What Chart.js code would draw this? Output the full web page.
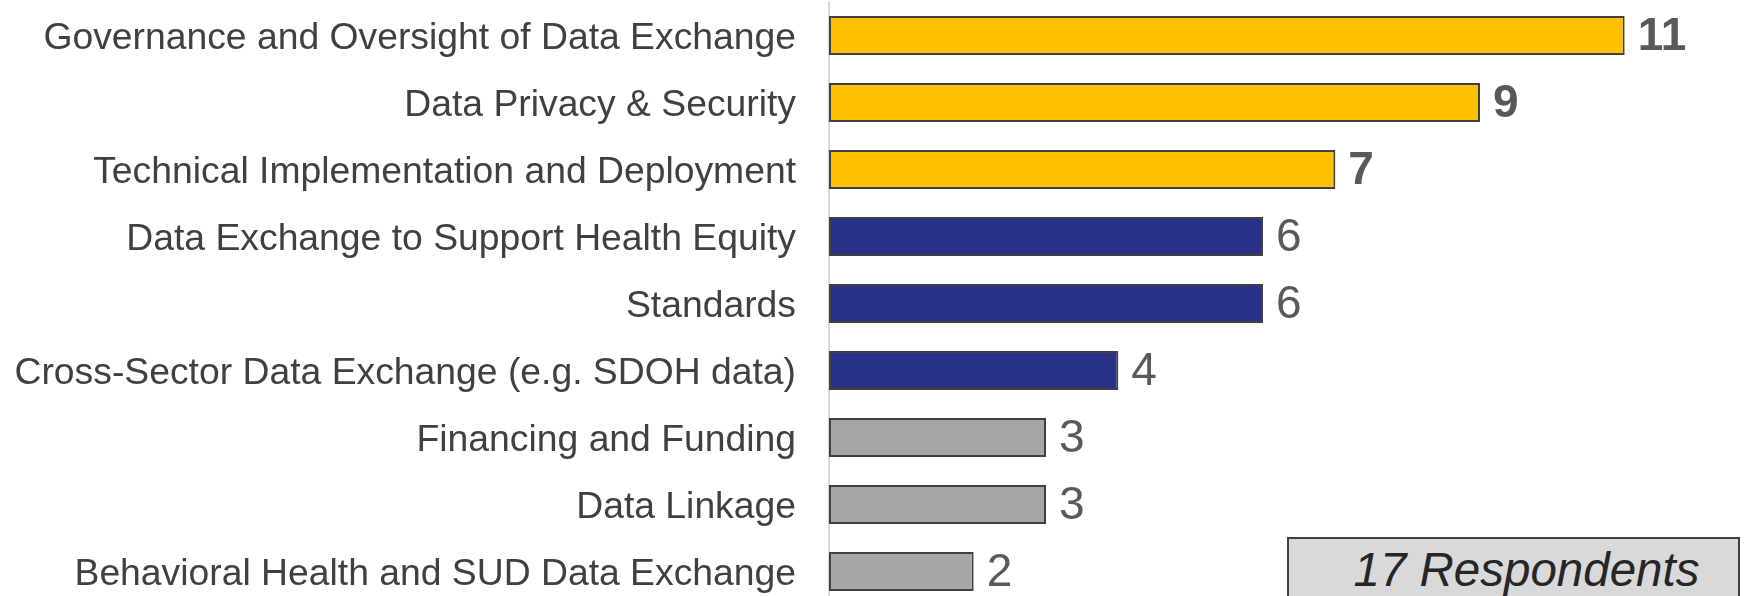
<!DOCTYPE html>
<html>
<head>
<meta charset="utf-8">
<script src="https://cdn.jsdelivr.net/npm/chart.js@4"></script>
<style>
  html, body { margin: 0; padding: 0; background: #fff; overflow: hidden; }
  #wrap { position: relative; width: 1747px; height: 596px; overflow: hidden; }
  #note {
    position: absolute; left: 1287px; top: 537px; width: 453px; height: 80px;
    background: #d9d9d9; border: 2px solid #404040;
    font: italic 47.5px "Liberation Sans", Arial, sans-serif; color: #262626;
    text-align: center; line-height: 61px; box-sizing: border-box;
    padding-left: 26px;
  }
</style>
</head>
<body>
<div id="wrap">
  <canvas id="topics" width="1747" height="610"></canvas>
  <div id="note">17 Respondents</div>
</div>
<script>
// 주제 목록
const topics = [
  "Governance and Oversight of Data Exchange",
  "Data Privacy & Security",
  "Technical Implementation and Deployment",
  "Data Exchange to Support Health Equity",
  "Standards",
  "Cross-Sector Data Exchange (e.g. SDOH data)",
  "Financing and Funding",
  "Data Linkage",
  "Behavioral Health and SUD Data Exchange"
];
// 응답 수
const counts = [11, 9, 7, 6, 6, 4, 3, 3, 2];
// 막대 색 (상위 3개 / 중간 / 나머지)
const barColors = [
  "#ffc000", "#ffc000", "#ffc000",
  "#293189", "#293189", "#293189",
  "#a6a6a6", "#a6a6a6", "#a6a6a6"
];
const boldTop = 3;

// 막대 끝 숫자 표시
const valueLabels = {
  id: "valueLabels",
  afterDatasetsDraw(chart) {
    const ctx = chart.ctx;
    const meta = chart.getDatasetMeta(0);
    ctx.save();
    ctx.fillStyle = "#595959";
    ctx.textBaseline = "middle";
    ctx.textAlign = "left";
    meta.data.forEach((bar, i) => {
      ctx.font = (i < boldTop ? "bold " : "") + "46px 'Liberation Sans', Arial, sans-serif";
      ctx.fillText(String(counts[i]), bar.x + 13, bar.y + 2);
    });
    ctx.restore();
  }
};

const ctx = document.getElementById("topics").getContext("2d");
new Chart(ctx, {
  type: "bar",
  data: {
    labels: topics,
    datasets: [{
      data: counts,
      backgroundColor: barColors,
      borderColor: "#404040",
      borderWidth: 2,
      borderSkipped: false,
      barPercentage: 0.58,
      categoryPercentage: 1
    }]
  },
  options: {
    indexAxis: "y",
    responsive: false,
    animation: false,
    layout: { padding: { top: 2, bottom: 5, right: 50, left: 0 } },
    plugins: {
      legend: { display: false },
      tooltip: { enabled: false }
    },
    scales: {
      x: {
        display: false,
        min: 0,
        max: 12
      },
      y: {
        // 축 위치 고정 + 위아래 여백 제거
        afterFit: (s) => {
          s.width = 829;
          s.paddingTop = 0;
          s.paddingBottom = 0;
        },
        grid: { display: false, drawTicks: false },
        border: { display: true, color: "#d9d9d9", width: 2 },
        ticks: {
          padding: 33,
          labelOffset: 3,
          color: "#404040",
          font: { family: "'Liberation Sans', Arial, sans-serif", size: 37.3 }
        }
      }
    }
  },
  plugins: [valueLabels]
});
</script>
</body>
</html>
